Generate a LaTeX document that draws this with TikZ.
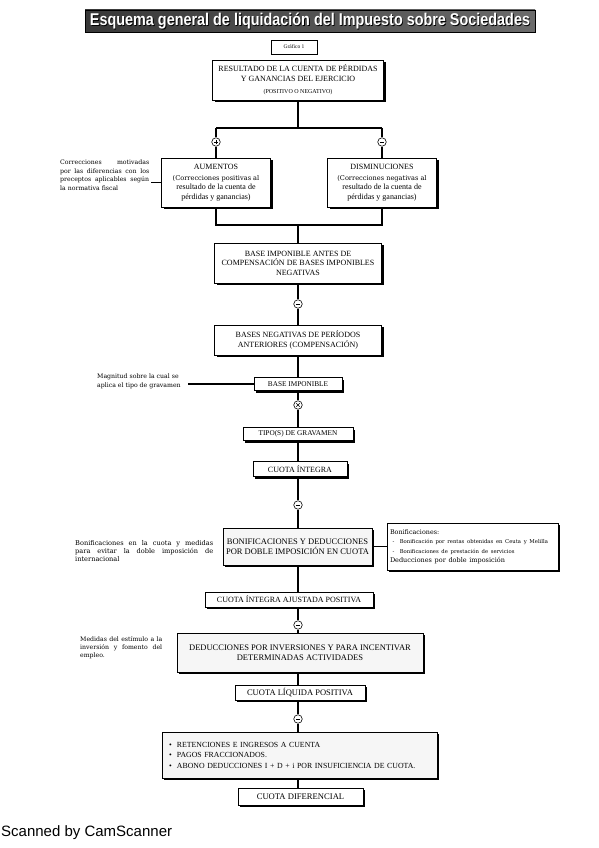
\documentclass[tikz,border=0pt]{standalone}
\usepackage{fontspec}
\usepackage{graphicx}
\setmainfont{Liberation Serif}
\newfontfamily\sansf{Liberation Sans}
\newfontfamily\wserif{DejaVu Serif}
\usetikzlibrary{shadows}
\newcommand{\bfnt}{\fontsize{8}{9.5}\selectfont}
\newcommand{\lfnt}{\wserif\fontsize{6.2}{8.4}\selectfont}
\newcommand{\ttl}{\resizebox{440pt}{12.5pt}{\sansf\bfseries Esquema general de liquidación del Impuesto sobre Sociedades}}
\newcommand{\opminus}[1]{\draw[line width=0.6pt] ([xshift=-2.2pt]#1.center) -- ([xshift=2.2pt]#1.center);}
\newcommand{\opplus}[1]{\opminus{#1}\draw[line width=0.6pt] ([yshift=-2.2pt]#1.center) -- ([yshift=2.2pt]#1.center);}
\newcommand{\optimes}[1]{\draw[line width=0.6pt] ([xshift=-1.7pt,yshift=-1.7pt]#1.center) -- ([xshift=1.7pt,yshift=1.7pt]#1.center);
  \draw[line width=0.6pt] ([xshift=-1.7pt,yshift=1.7pt]#1.center) -- ([xshift=1.7pt,yshift=-1.7pt]#1.center);}
\begin{document}
\begin{tikzpicture}[x=1pt,y=-1pt]
\tikzset{
 box/.style={draw=black, line width=0.5pt, fill=white,
   drop shadow={shadow xshift=2pt, shadow yshift=-2pt, opacity=1, fill=black},
   align=center, font=\bfnt, inner sep=1pt},
 graybox/.style={box, fill=gray!7},
 sym/.style={circle, draw=black, line width=0.6pt, fill=white, inner sep=0pt, minimum size=8.5pt},
 conn/.style={draw=black, line width=1.1pt},
 lab/.style={font=\lfnt, inner sep=0pt, align=justify, anchor=north west},
}
\useasboundingbox (0,0) rectangle (599,848);
\fill[white] (0,0) rectangle (599,848);

% title
\node[draw=black, line width=0.6pt, left color=black!78, right color=black!58,
      minimum width=450pt, minimum height=22pt, inner sep=0pt] (title) at (310,21) {};
\node[text=black, inner sep=0pt] (titleshadow) at (310.8,21.8) {\ttl};
\node[text=white, inner sep=0pt] (titletext) at (310,21) {\ttl};

\node[draw=black, line width=0.5pt, fill=white, minimum width=46pt, minimum height=14pt,
      inner sep=0pt, font=\fontsize{5.5}{6}\selectfont,
      drop shadow={shadow xshift=1pt, shadow yshift=-1pt, opacity=1, fill=black}] (graf) at (294,47) {Gráfico 1};

% boxes
\node[box, minimum width=171pt, minimum height=40pt] (r1) at (298,80)
  {RESULTADO DE LA CUENTA DE PÉRDIDAS\\Y GANANCIAS DEL EJERCICIO\\[3pt]\fontsize{6}{6}\selectfont (POSITIVO O NEGATIVO)};

\node[box, minimum width=109pt, minimum height=49pt] (aum) at (216,182.5)
  {AUMENTOS\\[1.5pt]\wserif\fontsize{6.6}{9.3}\selectfont (Correcciones positivas al\\resultado de la cuenta de\\pérdidas y ganancias)};
\node[box, minimum width=109pt, minimum height=49pt] (dis) at (382,182.5)
  {DISMINUCIONES\\[1.5pt]\wserif\fontsize{6.6}{9.3}\selectfont (Correcciones negativas al\\resultado de la cuenta de\\pérdidas y ganancias)};

\node[box, minimum width=167pt, minimum height=40pt] (bia) at (298,263)
  {BASE IMPONIBLE ANTES DE\\COMPENSACIÓN DE BASES IMPONIBLES\\NEGATIVAS};
\node[box, minimum width=167pt, minimum height=30pt] (bneg) at (298,340)
  {BASES NEGATIVAS DE PERÍODOS\\ANTERIORES (COMPENSACIÓN)};
\node[box, minimum width=88pt, minimum height=13pt, font=\fontsize{7.3}{8}\selectfont] (bimp) at (298,384) {BASE IMPONIBLE};
\node[box, minimum width=110pt, minimum height=13pt, font=\fontsize{7.3}{8}\selectfont] (tipo) at (298,434) {TIPO(S) DE GRAVAMEN};
\node[box, minimum width=94pt, minimum height=15pt] (cint) at (300,469) {CUOTA ÍNTEGRA};
\node[graybox, minimum width=149pt, minimum height=37pt, font=\fontsize{8.5}{10.5}\selectfont] (bonif) at (297.5,546.5)
  {BONIFICACIONES Y DEDUCCIONES\\POR DOBLE IMPOSICIÓN EN CUOTA};
\node[box, minimum width=171pt, minimum height=47pt, align=left, text width=165pt, inner sep=3pt] (bonr) at (472.5,546.5)
  {{\wserif\fontsize{6.4}{9}\selectfont Bonificaciones:}\\
   {\wserif\fontsize{5.3}{8}\selectfont\ -\ \ Bonificación por rentas obtenidas en Ceuta y Melilla}\\
   {\wserif\fontsize{5.3}{8}\selectfont\ -\ \ Bonificaciones de prestación de servicios}\\
   {\wserif\fontsize{6.5}{10}\selectfont Deducciones por doble imposición}};
\node[box, minimum width=168pt, minimum height=15pt] (ajust) at (289,599.5) {CUOTA ÍNTEGRA AJUSTADA POSITIVA};
\node[graybox, minimum width=246pt, minimum height=39pt, font=\fontsize{8.5}{10.5}\selectfont] (dedinv) at (300,652.5)
  {DEDUCCIONES POR INVERSIONES Y PARA INCENTIVAR\\DETERMINADAS ACTIVIDADES};
\node[box, minimum width=130pt, minimum height=15pt, font=\fontsize{8.5}{9}\selectfont] (cliq) at (300,692.5) {CUOTA LÍQUIDA POSITIVA};
\node[graybox, minimum width=275pt, minimum height=46pt, align=left, text width=261pt,
      font=\fontsize{7.8}{10.5}\selectfont] (bul) at (299.5,755)
  {\textbullet\ \ RETENCIONES E INGRESOS A CUENTA\\
   \textbullet\ \ PAGOS FRACCIONADOS.\\
   \textbullet\ \ ABONO DEDUCCIONES I + D + i POR INSUFICIENCIA DE CUOTA.};
\node[box, minimum width=125pt, minimum height=17pt, font=\fontsize{8.6}{9}\selectfont] (cdif) at (300.5,796.5) {CUOTA DIFERENCIAL};

% operator circles
\node[sym] (cp) at (216,142) {};
\node[sym] (cm) at (382,142) {};
\node[sym] (c3) at (298,304) {};
\node[sym] (c4) at (298,405) {};
\node[sym] (c5) at (298,505) {};
\node[sym] (c6) at (298,625) {};
\node[sym] (c7) at (298,719) {};
\opplus{cp}
\opminus{cm}
\opminus{c3}
\optimes{c4}
\opminus{c5}
\opminus{c6}
\opminus{c7}

% connectors
\coordinate (jt) at (298,128);
\coordinate (jl) at (216,128);
\coordinate (jr) at (382,128);
\coordinate (bl) at (216,225);
\coordinate (br) at (382,225);
\coordinate (bm) at (298,225);
\draw[conn] (r1.south) -- (jt);
\draw[conn] (jl) -- (jr);
\draw[conn] (jl) -- (cp) -- (aum.north);
\draw[conn] (jr) -- (cm) -- (dis.north);
\draw[conn] (aum.south) -- (bl) -- (br) -- (dis.south);
\draw[conn] (bm) -- (bia.north);
\draw[conn] (bia.south) -- (c3) -- (bneg.north);
\draw[conn] (bneg.south) -- (bimp.north);
\draw[conn] (bimp.south) -- (c4) -- (tipo.north);
\draw[conn] (tipo.south) -- (tipo.south |- cint.north);
\draw[conn] (cint.south -| c5) -- (c5) -- (c5 |- bonif.north);
\draw[conn] (bonif.east) -- (bonif.east -| bonr.west);
\draw[conn] (c5 |- bonif.south) -- (c5 |- ajust.north);
\draw[conn] (c6 |- ajust.south) -- (c6) -- (c6 |- dedinv.north);
\draw[conn] (c6 |- dedinv.south) -- (c6 |- cliq.north);
\draw[conn] (c7 |- cliq.south) -- (c7) -- (c7 |- bul.north);
\draw[conn] (c7 |- bul.south) -- (c7 |- cdif.north);

% side labels
\node[lab, text width=89pt] (lab1) at (60,160)
  {Correcciones motivadas\linebreak por las diferencias con los\linebreak preceptos aplicables según\linebreak la normativa fiscal};
\draw[conn] (lab1.east |- aum.west) ++(2,0) coordinate (l1e) -- (aum.west);
\node[lab, align=left] (lab2) at (97,374) {Magnitud sobre la cual se\\aplica el tipo de gravamen};
\draw[conn] (bimp.west) -- ++(-66,0) coordinate (l2e);
\node[lab, text width=138pt, font=\wserif\fontsize{6.6}{8.3}\selectfont] (lab3) at (75,540)
  {Bonificaciones en la cuota y medidas\linebreak para evitar la doble imposición de\linebreak internacional};
\node[lab, text width=82pt] (lab4) at (80,636)
  {Medidas del estímulo a la\linebreak inversión y fomento del\linebreak empleo.};

\node[anchor=west, inner sep=0pt, font=\sansf\fontsize{15}{16}\selectfont] (scan) at (1,833) {Scanned by CamScanner};
\end{tikzpicture}
\end{document}
